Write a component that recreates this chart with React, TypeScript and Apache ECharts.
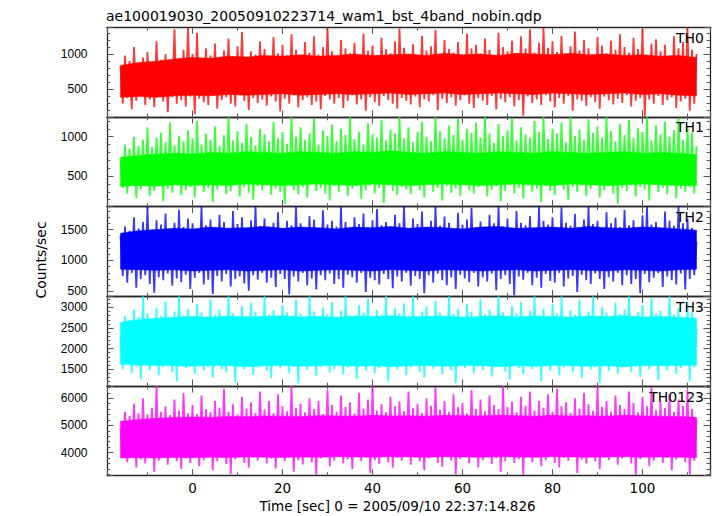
import React, { useEffect, useRef } from "react";
import * as echarts from "echarts";

const TITLE = "ae100019030_20050910223714_wam1_bst_4band_nobin.qdp";
const X_LABEL = "Time [sec] 0 = 2005/09/10 22:37:14.826";
const Y_LABEL = "Counts/sec";
const BANDS = ["TH0", "TH1", "TH2", "TH3", "TH0123"];
const COLORS = ["#ff0000", "#00ff00", "#0000ff", "#00ffff", "#ff00ff"];

const X_MIN = -19;
const X_MAX = 115;
const X_STEP = 20;
const Y_MIN = [112, 112, 420, 1090, 3150];
const Y_MAX = [1378, 1250, 1870, 3270, 6450];
const Y_STEP = [500, 500, 500, 500, 1000];

const T_START = -16; // first sample time (sec)
const SAMPLE_STEP = 1; // peaks at t = -16..112 ; troughs half a step later
const CORE_STEP = 4; // sec between readings of the solid band

// ---- TH0 ----
const th0Hi = [
  820, 980, 900, 1100, 870, 950, 1030, 880, 1180, 920, 1000, 860, 1350, 940, 1060, 1370,
  1000, 1300, 920, 1080, 980, 1150, 900, 1050, 1220, 960, 1110, 1310, 940, 1040, 990, 1180,
  1070, 950, 1240, 1010, 1130, 980, 1280, 1060, 930, 1170, 1020, 1250, 990, 1100, 1370, 1040,
  960, 1200, 1080, 1010, 1160, 940, 1290, 1050, 1120, 980, 1230, 1070, 1010, 1180, 1360, 1090,
  1000, 1140, 970, 1260, 1050, 1110, 1340, 990, 1200, 1070, 1020, 1170, 950, 1290, 1080, 1130,
  1010, 1220, 1060, 980, 1300, 1100, 1040, 1190, 970, 1250, 1080, 1350, 1020, 1160, 1370, 1090,
  1180, 1030, 1260, 990, 1110, 1320, 1050, 1200, 1080, 960, 1240, 1120, 1010, 1190, 1060, 1280,
  1100, 1020, 1230, 1070, 1360, 990, 1150, 1210, 1040, 1130, 980, 1250, 1080, 1170, 1370, 1060,
  1000,
];
const th0Lo = [
  300, 380, 220, 340, 410, 280, 360, 250, 420, 330, 180, 390, 300, 350, 260, 400,
  150, 370, 320, 280, 410, 230, 350, 390, 300, 260, 420, 340, 210, 380, 310, 360,
  270, 400, 330, 190, 370, 300, 420, 250, 350, 390, 280, 330, 220, 410, 360, 300,
  380, 240, 340, 420, 290, 360, 200, 390, 320, 270, 410, 350, 300, 230, 380, 340,
  290, 400, 250, 360, 330, 420, 210, 370, 310, 390, 270, 350, 420, 300, 240, 380,
  340, 280, 410, 220, 370, 320, 390, 260, 350, 130, 400, 310, 360, 280, 420, 330,
  250, 380, 300, 410, 200, 360, 340, 270, 390, 320, 230, 400, 350, 290, 370, 310,
  420, 260, 340, 380, 120, 360, 300, 410, 280, 350, 390, 240, 330, 370, 200, 300,
];
const th0CoreHi = [840, 880, 900, 930, 950, 940, 970, 960, 980, 970, 990, 970, 980, 1000, 980, 990, 1000, 980, 1010, 990, 1000, 980, 1010, 1000, 990, 1010, 990, 1000, 980, 990, 970, 980, 950];
const th0CoreLo = [390, 400, 390, 410, 420, 410, 430, 420, 430, 440, 420, 430, 440, 430, 440, 450, 430, 440, 450, 430, 440, 450, 440, 430, 450, 440, 430, 440, 450, 430, 440, 420, 410];

// ---- TH1 ----
const th1Hi = [
  700, 900, 850, 1000, 880, 960, 1120, 870, 990, 1050, 930, 1180, 890, 1010, 940, 1080,
  980, 1200, 900, 1040, 960, 1130, 880, 1020, 1250, 950, 1070, 920, 1160, 1000, 890, 1100,
  1030, 940, 1190, 980, 1060, 910, 1250, 1000, 1120, 960, 1040, 1230, 900, 1080, 1010, 1150,
  940, 1100, 1020, 1250, 970, 1060, 900, 1170, 1030, 990, 1210, 950, 1090, 1040, 1250, 980,
  1120, 930, 1060, 1190, 1000, 940, 1250, 1070, 980, 1140, 1020, 1230, 960, 1100, 1050, 1180,
  990, 1250, 1040, 920, 1160, 1010, 1080, 1240, 950, 1120, 1030, 990, 1200, 1060, 1250, 970,
  1100, 1040, 1180, 930, 1250, 1010, 1090, 960, 1220, 1050, 1130, 990, 1250, 1070, 940, 1160,
  1020, 1210, 980, 1110, 1060, 1250, 950, 1140, 1030, 1190, 1000, 1080, 1240, 960, 1120, 1050,
  880,
];
const th1Lo = [
  350, 280, 390, 220, 330, 370, 250, 310, 400, 180, 340, 290, 380, 260, 320, 360,
  230, 390, 300, 350, 170, 330, 380, 270, 310, 400, 240, 360, 290, 200, 370, 320,
  380, 260, 340, 300, 150, 390, 320, 270, 360, 230, 400, 310, 350, 280, 190, 370,
  300, 390, 250, 340, 370, 210, 320, 380, 280, 350, 160, 390, 310, 260, 360, 330,
  270, 380, 320, 230, 400, 300, 350, 190, 370, 290, 340, 250, 390, 320, 280, 360,
  400, 240, 330, 370, 180, 310, 390, 280, 350, 220, 380, 300, 340, 170, 370, 310,
  260, 390, 330, 200, 360, 300, 380, 250, 340, 400, 230, 320, 370, 280, 150, 350,
  310, 380, 240, 360, 330, 190, 390, 300, 350, 270, 380, 220, 340, 300, 360, 280,
];
const th1CoreHi = [740, 760, 780, 790, 780, 800, 790, 810, 800, 790, 810, 800, 790, 810, 800, 820, 800, 790, 810, 800, 790, 810, 800, 790, 810, 800, 790, 800, 810, 790, 800, 790, 770];
const th1CoreLo = [370, 380, 370, 390, 380, 390, 380, 400, 390, 380, 390, 400, 390, 380, 400, 390, 380, 390, 400, 390, 380, 390, 400, 390, 380, 400, 390, 380, 390, 400, 390, 380, 380];

// ---- TH2 ----
const th2Hi = [
  1400, 1550, 1480, 1700, 1520, 1620, 1870, 1500, 1650, 1580, 1760, 1490, 1610, 1820, 1540, 1680,
  1600, 1500, 1870, 1570, 1660, 1480, 1740, 1620, 1530, 1800, 1590, 1700, 1510, 1650, 1870, 1560,
  1680, 1520, 1610, 1780, 1490, 1640, 1570, 1870, 1600, 1530, 1720, 1660, 1500, 1810, 1580, 1640,
  1550, 1870, 1620, 1480, 1700, 1590, 1760, 1510, 1650, 1830, 1570, 1620, 1490, 1740, 1600, 1870,
  1520, 1680, 1590, 1790, 1500, 1640, 1870, 1560, 1710, 1610, 1480, 1770, 1580, 1660, 1850, 1530,
  1630, 1500, 1740, 1600, 1870, 1550, 1680, 1520, 1800, 1610, 1570, 1720, 1490, 1870, 1640, 1580,
  1700, 1530, 1860, 1610, 1560, 1750, 1500, 1660, 1870, 1590, 1640, 1520, 1780, 1600, 1690, 1540,
  1820, 1570, 1650, 1500, 1730, 1870, 1580, 1620, 1510, 1790, 1640, 1560, 1870, 1600, 1680, 1530,
  1300,
];
const th2Lo = [
  750, 640, 800, 560, 700, 760, 620, 480, 730, 680, 790, 590, 710, 650, 770, 540,
  720, 800, 610, 690, 460, 750, 660, 780, 580, 700, 740, 630, 510, 760, 690, 800,
  640, 720, 570, 780, 700, 450, 740, 660, 800, 600, 710, 530, 760, 680, 790, 620,
  700, 560, 770, 730, 640, 800, 490, 720, 680, 610, 780, 700, 550, 740, 660, 800,
  590, 750, 700, 470, 760, 640, 790, 680, 600, 730, 540, 770, 710, 650, 800, 580,
  730, 660, 790, 520, 700, 760, 620, 440, 740, 690, 800, 600, 720, 560, 780, 670,
  640, 800, 580, 710, 750, 490, 770, 680, 620, 790, 700, 540, 730, 660, 800, 600,
  760, 620, 700, 470, 780, 650, 720, 800, 570, 740, 680, 610, 790, 530, 700, 760,
];
const th2CoreHi = [1440, 1480, 1500, 1520, 1510, 1540, 1520, 1530, 1550, 1520, 1540, 1530, 1510, 1540, 1530, 1550, 1520, 1540, 1530, 1510, 1540, 1550, 1520, 1530, 1540, 1520, 1550, 1530, 1520, 1540, 1530, 1510, 1490];
const th2CoreLo = [860, 850, 840, 850, 830, 840, 850, 830, 840, 850, 830, 840, 850, 840, 830, 850, 840, 830, 850, 840, 830, 840, 850, 830, 840, 850, 840, 830, 850, 840, 830, 850, 860];

// ---- TH3 ----
const th3Hi = [
  2300, 2800, 2700, 2950, 2760, 3270, 2850, 2720, 3000, 2790, 3150, 2740, 2900, 3270, 2810, 2960,
  2750, 3080, 2870, 2710, 3200, 2830, 2950, 2770, 3270, 2860, 2740, 3030, 2800, 3120, 2900, 2760,
  3270, 2820, 2940, 2730, 3060, 2880, 2790, 3180, 2850, 2720, 3270, 2900, 2780, 3000, 2840, 3130,
  2760, 2920, 3270, 2800, 2710, 3050, 2870, 3210, 2780, 2940, 2830, 3270, 2750, 2980, 2860, 3100,
  2810, 3270, 2740, 2900, 3020, 2790, 3160, 2870, 2730, 3270, 2840, 2960, 2780, 3090, 2900, 2760,
  3200, 2830, 2950, 2720, 3270, 2880, 2790, 3040, 2860, 3140, 2750, 2920, 3270, 2810, 2970, 2740,
  3080, 2850, 3270, 2780, 2930, 2820, 3190, 2740, 2900, 3270, 2800, 3010, 2870, 2760, 3120, 2840,
  2950, 3270, 2790, 2880, 3060, 2730, 3220, 2850, 2920, 2770, 3270, 2830, 3000, 2760, 3150, 2880,
  2500,
];
const th3Lo = [
  1500, 1620, 1400, 1560, 1250, 1600, 1480, 1640, 1350, 1550, 1610, 1430, 1200, 1580, 1520, 1650,
  1380, 1600, 1470, 1550, 1300, 1620, 1500, 1420, 1640, 1180, 1570, 1490, 1610, 1360, 1540, 1650,
  1450, 1280, 1600, 1520, 1630, 1400, 1560, 1150, 1590, 1480, 1640, 1340, 1550, 1610, 1420, 1500,
  1620, 1370, 1540, 1650, 1260, 1580, 1460, 1600, 1410, 1530, 1640, 1200, 1570, 1490, 1620, 1350,
  1550, 1640, 1430, 1300, 1600, 1510, 1570, 1380, 1620, 1470, 1160, 1590, 1530, 1650, 1400, 1560,
  1480, 1610, 1320, 1570, 1640, 1440, 1250, 1600, 1520, 1380, 1630, 1500, 1560, 1200, 1590, 1460,
  1620, 1350, 1540, 1650, 1420, 1580, 1280, 1610, 1490, 1560, 1150, 1600, 1450, 1630, 1390, 1540,
  1580, 1430, 1640, 1310, 1560, 1500, 1620, 1240, 1590, 1470, 1650, 1380, 1530, 1600, 1200, 1550,
];
const th3CoreHi = [2640, 2700, 2740, 2760, 2780, 2760, 2790, 2770, 2780, 2800, 2770, 2780, 2760, 2790, 2780, 2800, 2770, 2780, 2790, 2760, 2780, 2800, 2770, 2790, 2780, 2760, 2790, 2780, 2800, 2770, 2780, 2760, 2740];
const th3CoreLo = [1620, 1600, 1590, 1580, 1570, 1590, 1580, 1560, 1580, 1590, 1570, 1580, 1590, 1570, 1580, 1560, 1580, 1590, 1570, 1580, 1590, 1560, 1580, 1570, 1590, 1580, 1570, 1580, 1560, 1590, 1580, 1590, 1600];

// ---- TH0123 ----
const th0123Hi = [
  4900, 5500, 5350, 5800, 5450, 6000, 5400, 5650, 6450, 5500, 5700, 5380, 5950, 5550, 6200, 5450,
  5750, 5420, 6100, 5600, 5480, 5900, 5650, 6350, 5500, 5780, 5400, 6050, 5620, 5850, 5460, 6250,
  5580, 5900, 5450, 6150, 5700, 5520, 6450, 5650, 5800, 5480, 6000, 5600, 5900, 5420, 6300, 5750,
  5500, 6100, 5680, 5850, 5440, 6200, 5620, 5950, 6450, 5550, 5780, 5480, 6050, 5700, 5880, 5520,
  6250, 5650, 5800, 5460, 6000, 5720, 6400, 5580, 5900, 5500, 6150, 5680, 5820, 5450, 6300, 5600,
  5950, 5520, 6100, 5750, 5600, 6450, 5680, 5880, 5480, 6050, 5720, 6250, 5550, 5900, 5650, 6150,
  5500, 6350, 5700, 5850, 5460, 6000, 5620, 6200, 5780, 5540, 6450, 5680, 5900, 5500, 6100, 5750,
  5600, 6250, 5820, 5480, 6050, 5700, 6400, 5560, 5880, 5650, 6150, 5500, 5950, 5720, 6300, 5600,
  5200,
];
const th0123Lo = [
  3800, 3650, 3900, 3450, 3750, 3600, 3880, 3300, 3700, 3820, 3550, 3900, 3680, 3400, 3780, 3620,
  3860, 3500, 3720, 3900, 3350, 3680, 3800, 3580, 3200, 3750, 3880, 3620, 3450, 3820, 3700, 3900,
  3600, 3780, 3420, 3850, 3680, 3900, 3300, 3720, 3560, 3820, 3650, 3180, 3780, 3880, 3500, 3700,
  3850, 3600, 3750, 3400, 3900, 3680, 3820, 3250, 3720, 3580, 3880, 3650, 3450, 3800, 3700, 3900,
  3550, 3820, 3680, 3350, 3780, 3900, 3620, 3480, 3850, 3700, 3200, 3760, 3880, 3600, 3820, 3450,
  3720, 3900, 3580, 3800, 3300, 3680, 3850, 3620, 3760, 3180, 3880, 3650, 3820, 3500, 3720, 3900,
  3620, 3450, 3800, 3700, 3880, 3250, 3750, 3600, 3850, 3680, 3400, 3820, 3720, 3900, 3550, 3780,
  3880, 3600, 3180, 3760, 3850, 3500, 3700, 3900, 3620, 3800, 3350, 3750, 3880, 3650, 3200, 3700,
];
const th0123CoreHi = [5150, 5220, 5260, 5290, 5310, 5300, 5330, 5320, 5350, 5340, 5330, 5360, 5350, 5340, 5370, 5350, 5360, 5340, 5370, 5360, 5350, 5370, 5360, 5340, 5370, 5350, 5360, 5340, 5370, 5350, 5340, 5330, 5300];
const th0123CoreLo = [3800, 3810, 3800, 3820, 3810, 3830, 3820, 3840, 3830, 3820, 3840, 3830, 3850, 3840, 3830, 3850, 3840, 3830, 3850, 3840, 3830, 3850, 3840, 3830, 3850, 3840, 3830, 3840, 3850, 3830, 3840, 3830, 3820];

const HI = [th0Hi, th1Hi, th2Hi, th3Hi, th0123Hi];
const LO = [th0Lo, th1Lo, th2Lo, th3Lo, th0123Lo];
const CORE_HI = [th0CoreHi, th1CoreHi, th2CoreHi, th3CoreHi, th0123CoreHi];
const CORE_LO = [th0CoreLo, th1CoreLo, th2CoreLo, th3CoreLo, th0123CoreLo];

const GRID_TOP = 27.3;
const GRID_H = 89.68;
const GRID_LEFT = 107;
const GRID_RIGHT = 7;

const FONT_MAIN = "DejaVu Sans";
const FONT_Y = "Liberation Sans";

function spikePoints(hi: number[], lo: number[]) {
  const pts: number[][] = [];
  for (let i = 0; i < hi.length; i++) {
    pts.push([T_START + SAMPLE_STEP * i, hi[i]]);
    if (i < lo.length) pts.push([T_START + SAMPLE_STEP * (i + 0.5), lo[i]]);
  }
  return pts;
}

function buildOption() {
  const grid: any[] = [];
  const xAxis: any[] = [];
  const yAxis: any[] = [];
  const series: any[] = [];
  const lineCol = "#262626";
  const tickCol = "#555";
  const axisLine = { show: true, onZero: false, lineStyle: { color: lineCol, width: 1.3 } };
  const axisTick = { show: true, inside: true, length: 6.5, lineStyle: { color: tickCol, width: 1 } };

  BANDS.forEach((_, i) => {
    grid.push({ left: GRID_LEFT, right: GRID_RIGHT, top: GRID_TOP + i * GRID_H, height: GRID_H, containLabel: false });
    ["bottom", "top"].forEach((pos, k) => {
      xAxis.push({
        type: "value",
        gridIndex: i,
        position: pos,
        min: X_MIN,
        max: X_MAX,
        minInterval: X_STEP,
        maxInterval: X_STEP,
        splitNumber: 7,
        axisLine,
        axisTick,
        minorTick: { show: true, splitNumber: 2, length: 3.3, lineStyle: { color: tickCol, width: 1 } },
        splitLine: { show: false },
        minorSplitLine: { show: false },
        axisLabel: {
          show: i === BANDS.length - 1 && k === 0,
          showMinLabel: false,
          showMaxLabel: false,
          margin: 5,
          color: "#000",
          fontSize: 13.5,
          fontFamily: FONT_MAIN,
          formatter: (v: number) => String(v),
        },
      });
    });
    ["left", "right"].forEach((pos, k) => {
      yAxis.push({
        type: "value",
        gridIndex: i,
        position: pos,
        min: Y_MIN[i],
        max: Y_MAX[i],
        minInterval: Y_STEP[i],
        maxInterval: Y_STEP[i],
        splitNumber: 3,
        axisLine,
        axisTick,
        minorTick: { show: true, splitNumber: 5, length: 3.3, lineStyle: { color: tickCol, width: 1 } },
        splitLine: { show: false },
        minorSplitLine: { show: false },
        axisLabel: {
          show: k === 0,
          showMinLabel: false,
          showMaxLabel: false,
          margin: 19.5,
          color: "#000",
          fontSize: 12,
          fontFamily: FONT_Y,
          formatter: (v: number) => String(v),
        },
      });
    });

    const coreHi = CORE_HI[i];
    const coreLo = CORE_LO[i];
    const coreT = coreHi.map((_, k) => T_START + CORE_STEP * k);
    series.push({
      type: "custom",
      name: BANDS[i] + " core",
      xAxisIndex: 2 * i,
      yAxisIndex: 2 * i,
      silent: true,
      clip: true,
      z: 1,
      data: coreHi.map((v, k) => [coreT[k], coreLo[k], v]),
      encode: { x: 0, y: [1, 2] },
      renderItem: (params: any, api: any) => {
        if (params.dataIndex !== 0) return null;
        const top = coreHi.map((v, k) => api.coord([coreT[k], v]));
        const bot = coreLo.map((v, k) => api.coord([coreT[k], v])).reverse();
        return {
          type: "polygon",
          shape: { points: top.concat(bot) },
          style: { fill: COLORS[i], stroke: COLORS[i], lineWidth: 0.5 },
        };
      },
    });
    series.push({
      type: "line",
      name: BANDS[i],
      xAxisIndex: 2 * i,
      yAxisIndex: 2 * i,
      silent: true,
      z: 2,
      symbol: "none",
      showSymbol: false,
      data: spikePoints(HI[i], LO[i]),
      lineStyle: { color: COLORS[i], width: 1.8, opacity: 0.78 },
      itemStyle: { color: COLORS[i] },
    });
  });

  const graphicEls: any[] = [
    {
      type: "text",
      x: 106,
      y: 15.5,
      style: { text: TITLE, fill: "#000", fontSize: 14, fontFamily: FONT_MAIN, align: "left", verticalAlign: "middle" },
    },
    {
      type: "text",
      x: 397.5,
      y: 505.5,
      style: { text: X_LABEL, fill: "#000", fontSize: 13.5, fontFamily: FONT_MAIN, align: "center", verticalAlign: "middle" },
    },
    {
      type: "text",
      x: 41,
      y: 260,
      rotation: Math.PI / 2,
      style: { text: Y_LABEL, fill: "#000", fontSize: 14, fontFamily: FONT_MAIN, align: "center", verticalAlign: "middle" },
    },
  ];
  BANDS.forEach((b, i) => {
    graphicEls.push({
      type: "text",
      x: 704,
      y: GRID_TOP + i * GRID_H + 10.5,
      z: 100,
      style: { text: b, fill: "#000", fontSize: 14, fontFamily: FONT_MAIN, align: "right", verticalAlign: "middle" },
    });
  });

  return {
    animation: false,
    backgroundColor: "#ffffff",
    grid,
    xAxis,
    yAxis,
    series,
    graphic: { elements: graphicEls },
  };
}

export default function App() {
  const ref = useRef<HTMLDivElement>(null);
  useEffect(() => {
    if (!ref.current) return;
    const chart = echarts.init(ref.current, undefined, { renderer: "svg" });
    chart.setOption(buildOption() as any);
    return () => {
      chart.dispose();
    };
  }, []);
  return (
    <div
      ref={ref}
      style={{ position: "fixed", left: 0, top: 0, width: 717, height: 516, background: "#fff" }}
    />
  );
}
